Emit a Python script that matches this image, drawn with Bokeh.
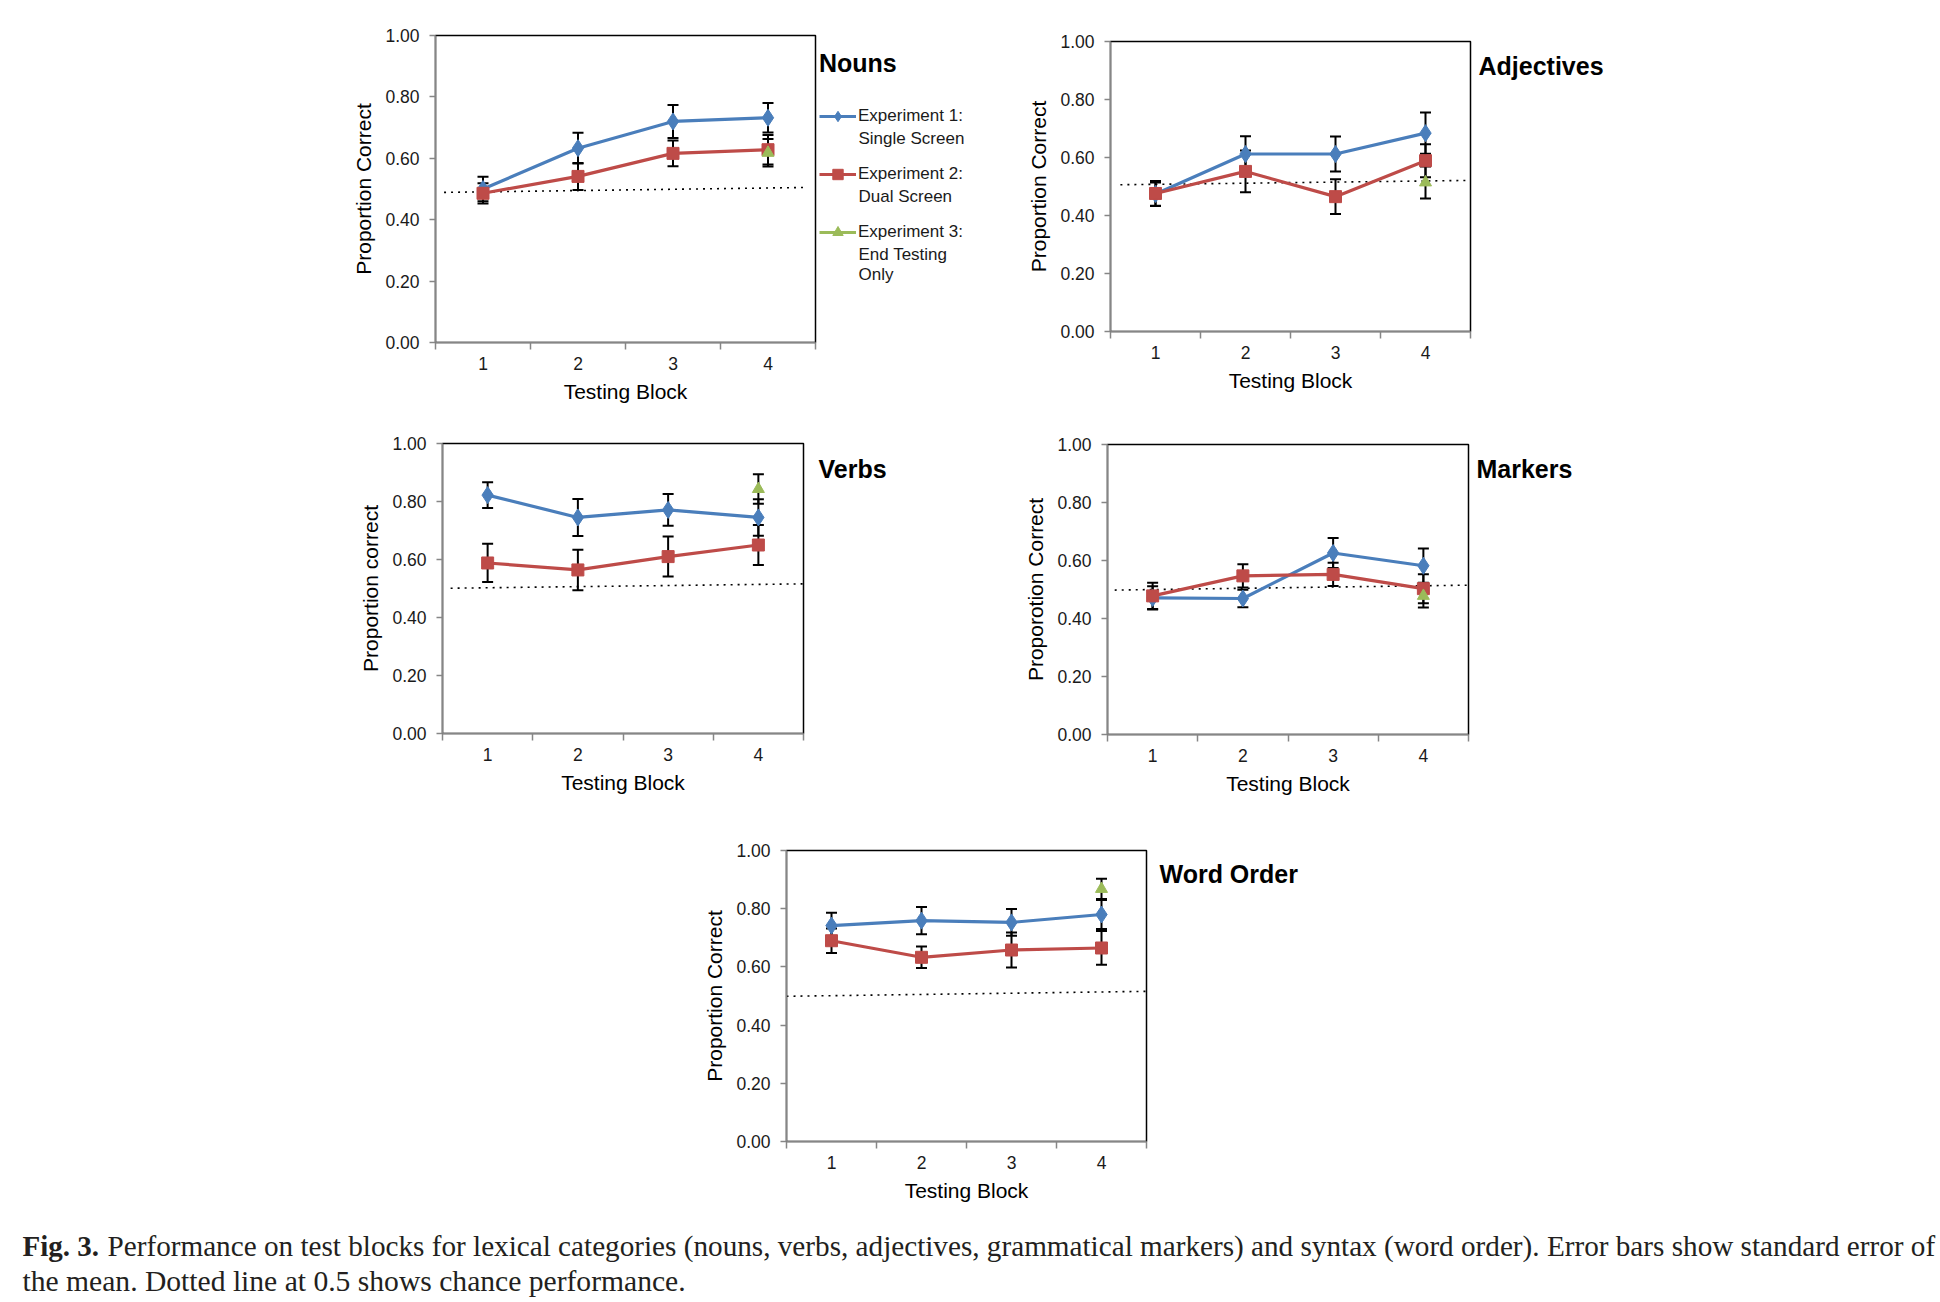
from bokeh.plotting import figure
from bokeh.layouts import row, column
from bokeh.models import (Range1d, FixedTicker, NumeralTickFormatter, Whisker, TeeHead,
                          ColumnDataSource, Label, Legend, LegendItem, Spacer)
from bokeh.embed import file_html
from bokeh.resources import INLINE

# ---------------- data ----------------
blocks = [1, 2, 3, 4]
block_bounds = [0.5, 1.5, 2.5, 3.5, 4.5]
y_ticks = [0.0, 0.2, 0.4, 0.6, 0.8, 1.0]
exp3_block = [4]

nouns_exp1 = [0.500, 0.633, 0.720, 0.732]
nouns_exp1_se = [0.040, 0.050, 0.054, 0.048]
nouns_exp2 = [0.486, 0.541, 0.616, 0.628]
nouns_exp2_se = [0.033, 0.044, 0.042, 0.048]
nouns_exp3 = [0.618]
nouns_exp3_se = [0.045]
nouns_chance_x = [0.59, 4.41]
nouns_chance_y = [0.489, 0.505]

adj_exp1 = [0.474, 0.612, 0.612, 0.684]
adj_exp1_se = [0.040, 0.061, 0.060, 0.071]
adj_exp2 = [0.476, 0.552, 0.465, 0.589]
adj_exp2_se = [0.043, 0.072, 0.060, 0.057]
adj_exp3 = [0.514]
adj_exp3_se = [0.055]
adj_chance_x = [0.61, 4.5]
adj_chance_y = [0.506, 0.521]

verbs_exp1 = [0.822, 0.745, 0.771, 0.745]
verbs_exp1_se = [0.044, 0.064, 0.055, 0.063]
verbs_exp2 = [0.588, 0.564, 0.610, 0.650]
verbs_exp2_se = [0.066, 0.070, 0.069, 0.069]
verbs_exp3 = [0.843]
verbs_exp3_se = [0.051]
verbs_chance_x = [0.59, 4.5]
verbs_chance_y = [0.501, 0.516]

markers_exp1 = [0.471, 0.469, 0.626, 0.582]
markers_exp1_se = [0.040, 0.030, 0.052, 0.059]
markers_exp2 = [0.478, 0.547, 0.552, 0.503]
markers_exp2_se = [0.045, 0.040, 0.040, 0.050]
markers_exp3 = [0.478]
markers_exp3_se = [0.040]
markers_chance_x = [0.58, 4.5]
markers_chance_y = [0.498, 0.515]

order_exp1 = [0.742, 0.759, 0.753, 0.780]
order_exp1_se = [0.044, 0.047, 0.046, 0.050]
order_exp2 = [0.690, 0.633, 0.658, 0.665]
order_exp2_se = [0.042, 0.037, 0.060, 0.058]
order_exp3 = [0.868]
order_exp3_se = [0.035]
order_chance_x = [0.50, 4.5]
order_chance_y = [0.499, 0.516]

legend_labels = ["Experiment 1:", "Experiment 2:", "Experiment 3:"]
legend_subtitles = ["Single Screen", "Dual Screen", "End Testing", "Only"]
caption_bold = "Fig. 3."
caption_line1 = ("Performance on test blocks for lexical categories (nouns, verbs, adjectives, "
                 "grammatical markers) and syntax (word order). Error bars show standard error of")
caption_line2 = "the mean. Dotted line at 0.5 shows chance performance."

# ---------------- style ----------------
BLUE = "#4A7EBB"
RED = "#BE4B48"
GREEN = "#9BBB59"
AXIS_GRAY = "#868686"
FONT = "Liberation Sans"
TITLE_SIZE = "25px"
LEG_SIZE = "17px"
LEG_COLOR = "#1a1a1a"


def whisker(p, xs, ys, ses):
    src = ColumnDataSource(dict(x=xs,
                                lower=[y - e for y, e in zip(ys, ses)],
                                upper=[y + e for y, e in zip(ys, ses)]))
    w = Whisker(base="x", lower="lower", upper="upper", source=src,
                line_color="black", line_width=2, level="glyph",
                upper_head=TeeHead(size=11, line_color="black", line_width=2),
                lower_head=TeeHead(size=11, line_color="black", line_width=2))
    p.add_layout(w)


def blank(width, height, xr=(0, 1)):
    s = figure(width=width, height=height, x_range=Range1d(*xr), y_range=Range1d(0, 1),
               output_backend="svg", toolbar_location=None, min_border=0,
               x_axis_location=None, y_axis_location=None, title_location=None,
               frame_align=False)
    s.grid.visible = False
    s.outline_line_color = None
    return s


def side(title, width, height, tx, ty):
    s = blank(width, height)
    s.add_layout(Label(x=tx, y=ty, x_units="screen", y_units="screen",
                       text=title, text_font=FONT, text_font_size=TITLE_SIZE,
                       text_font_style="bold", text_color="black",
                       text_baseline="middle", text_align="left"))
    return s


def legend_side(title, width, height, lx, ly, e1, e2, e3, sub_x, sub_y):
    # series are drawn outside this figure's visible range; only the legend shows
    s = blank(width, height, xr=(-3, -2))
    l1 = s.line(blocks, e1, line_color=BLUE, line_width=3)
    m1 = s.scatter(blocks, e1, marker="diamond", size=14, color=BLUE)
    l2 = s.line(blocks, e2, line_color=RED, line_width=3)
    m2 = s.scatter(blocks, e2, marker="square", size=10, color=RED)
    l3 = s.line(exp3_block, e3, line_color=GREEN, line_width=3)
    m3 = s.scatter(exp3_block, e3, marker="triangle", size=10, color=GREEN)
    lg = Legend(items=[LegendItem(label=legend_labels[0], renderers=[l1, m1]),
                       LegendItem(label=legend_labels[1], renderers=[l2, m2]),
                       LegendItem(label=legend_labels[2], renderers=[l3, m3])],
                location=(lx, ly), orientation="vertical",
                title=title, title_text_font=FONT, title_text_font_size=TITLE_SIZE,
                title_text_font_style="bold", title_text_color="black",
                title_standoff=25,
                padding=0, margin=0, spacing=32,
                border_line_color=None, background_fill_alpha=0,
                glyph_width=37, glyph_height=26, label_standoff=2,
                label_text_font=FONT, label_text_font_size=LEG_SIZE,
                label_text_color=LEG_COLOR)
    s.add_layout(lg)
    for txt, yy in zip(legend_subtitles, sub_y):
        s.add_layout(Label(x=sub_x, y=yy, x_units="screen", y_units="screen", text=txt,
                           text_font=FONT, text_font_size=LEG_SIZE, text_color=LEG_COLOR,
                           text_baseline="middle", text_align="left"))
    return s


def panel(ylabel, e1, e1se, e2, e2se, e3, e3se, cx, cy, fw, fh, bl, bt, br, bb):
    p = figure(width=bl + fw + br, height=bt + fh + bb,
               x_range=Range1d(0.5, 4.5), y_range=Range1d(0, 1),
               output_backend="svg", toolbar_location=None, frame_align=False,
               min_border_left=bl, min_border_right=br,
               min_border_top=bt, min_border_bottom=bb)
    p.grid.visible = False
    p.outline_line_color = "black"
    p.outline_line_width = 1.5

    xa = p.xaxis[0]
    xa.ticker = FixedTicker(ticks=blocks, minor_ticks=block_bounds)
    xa.major_tick_out = 0
    xa.major_tick_in = 0
    xa.minor_tick_out = 7
    xa.minor_tick_in = 0
    xa.minor_tick_line_color = AXIS_GRAY
    xa.minor_tick_line_width = 1.5
    xa.axis_line_color = AXIS_GRAY
    xa.axis_line_width = 1.5
    xa.major_label_standoff = 7
    xa.major_label_text_font = FONT
    xa.major_label_text_font_size = "17.5px"
    xa.major_label_text_color = "#1a1a1a"
    xa.axis_label = "Testing Block"
    xa.axis_label_text_font = FONT
    xa.axis_label_text_font_size = "21px"
    xa.axis_label_text_font_style = "normal"
    xa.axis_label_text_color = "black"
    xa.axis_label_standoff = 7

    ya = p.yaxis[0]
    ya.ticker = FixedTicker(ticks=y_ticks, minor_ticks=[])
    ya.formatter = NumeralTickFormatter(format="0.00")
    ya.major_tick_out = 6
    ya.major_tick_in = 0
    ya.minor_tick_out = 0
    ya.minor_tick_in = 0
    ya.major_tick_line_color = AXIS_GRAY
    ya.major_tick_line_width = 1.5
    ya.axis_line_color = AXIS_GRAY
    ya.axis_line_width = 1.5
    ya.major_label_standoff = 10
    ya.major_label_text_font = FONT
    ya.major_label_text_font_size = "17.5px"
    ya.major_label_text_color = "#1a1a1a"
    ya.axis_label = ylabel
    ya.axis_label_text_font = FONT
    ya.axis_label_text_font_size = "21px"
    ya.axis_label_text_font_style = "normal"
    ya.axis_label_text_color = "black"
    ya.axis_label_standoff = 7

    p.line(cx, cy, line_color="black", line_width=1.6, line_dash="2 5")

    p.line(blocks, e1, line_color=BLUE, line_width=3.2)
    p.line(blocks, e2, line_color=RED, line_width=3.2)

    whisker(p, blocks, e1, e1se)
    whisker(p, blocks, e2, e2se)
    whisker(p, exp3_block, e3, e3se)

    p.scatter(blocks, e1, marker="diamond", size=17, fill_color=BLUE,
              line_color=BLUE, level="overlay")
    p.scatter(blocks, e2, marker="square", size=12, fill_color=RED,
              line_color=RED, level="overlay")
    p.scatter(exp3_block, e3, marker="triangle", size=12, fill_color=GREEN,
              line_color=GREEN, level="overlay")
    return p


p1 = panel("Proportion Correct", nouns_exp1, nouns_exp1_se, nouns_exp2, nouns_exp2_se,
           nouns_exp3, nouns_exp3_se, nouns_chance_x, nouns_chance_y,
           fw=380, fh=307, bl=95, bt=27, br=2, bb=71)
s1 = legend_side("Nouns", 160, 405, 2, 168, nouns_exp1, nouns_exp2, nouns_exp3,
                 sub_x=41, sub_y=[275, 217, 159, 139])
p2 = panel("Proportion Correct", adj_exp1, adj_exp1_se, adj_exp2, adj_exp2_se,
           adj_exp3, adj_exp3_se, adj_chance_x, adj_chance_y,
           fw=360, fh=290, bl=95, bt=33, br=2, bb=82)
s2 = side("Adjectives", 150, 405, 6, 348)
p3 = panel("Proportion correct", verbs_exp1, verbs_exp1_se, verbs_exp2, verbs_exp2_se,
           verbs_exp3, verbs_exp3_se, verbs_chance_x, verbs_chance_y,
           fw=361, fh=290, bl=95, bt=30, br=2, bb=85)
s3 = side("Verbs", 140, 405, 13, 350)
p4 = panel("Proporotion Correct", markers_exp1, markers_exp1_se, markers_exp2,
           markers_exp2_se, markers_exp3, markers_exp3_se, markers_chance_x, markers_chance_y,
           fw=361, fh=290, bl=95, bt=31, br=2, bb=84)
s4 = side("Markers", 140, 405, 6, 350)
p5 = panel("Proportion Correct", order_exp1, order_exp1_se, order_exp2,
           order_exp2_se, order_exp3, order_exp3_se, order_chance_x, order_chance_y,
           fw=360, fh=291, bl=95, bt=32, br=2, bb=77)
s5 = side("Word Order", 180, 400, 11, 345)

cap = blank(1936, 82)
CAP_FONT = "Liberation Serif"
cap.add_layout(Label(x=22, y=55, x_units="screen", y_units="screen", text=caption_bold,
                     text_font=CAP_FONT, text_font_size="29px", text_font_style="bold",
                     text_color="#231F20", text_baseline="middle", text_align="left"))
cap.add_layout(Label(x=107, y=55, x_units="screen", y_units="screen", text=caption_line1,
                     text_font=CAP_FONT, text_font_size="29.2px",
                     text_color="#231F20", text_baseline="middle", text_align="left"))
cap.add_layout(Label(x=22, y=20, x_units="screen", y_units="screen", text=caption_line2,
                     text_font=CAP_FONT, text_font_size="29.6px",
                     text_color="#231F20", text_baseline="middle", text_align="left"))

layout = column(
    Spacer(width=10, height=8),
    row(Spacer(width=340, height=405), p1, s1, Spacer(width=38, height=405), p2, s2, spacing=0),
    row(Spacer(width=347, height=405), p3, s3, Spacer(width=67, height=405), p4, s4, spacing=0),
    row(Spacer(width=691, height=400), p5, s5, spacing=0),
    cap,
    spacing=0,
)

open("out.html", "w").write(file_html(layout, INLINE))
